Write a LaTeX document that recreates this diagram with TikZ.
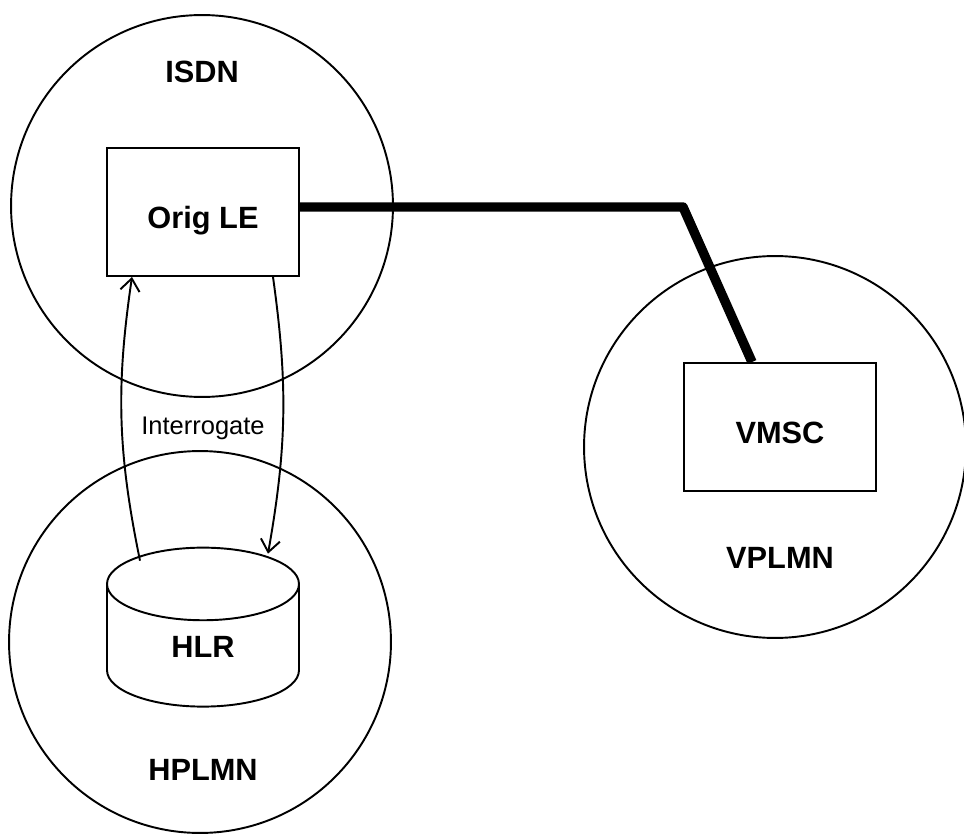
\documentclass[tikz,border=0pt]{standalone}
\usepackage{fontspec}
\setmainfont{Liberation Sans}
\usetikzlibrary{shapes.geometric,arrows.meta,calc}

\begin{document}
\begin{tikzpicture}[x=0.02cm,y=0.02cm,line width=1.1pt,
		net/.style={draw,circle,inner sep=0pt,minimum size=7.64cm},
		box/.style={draw,rectangle,minimum width=3.84cm,minimum height=2.56cm,text height=18.3pt,text depth=0pt,font=\fontsize{17.5}{21}\selectfont\bfseries},
		lbl/.style={font=\fontsize{17.5}{21}\selectfont\bfseries},
		msg/.style={-{Straight Barb[length=7pt,width=11pt]}},
		trunk/.style={line width=5.4pt,line join=round}]
	\useasboundingbox (0,0) rectangle (964,833);
	% networks
	\node[net] (isdn) at (202,627) {};
	\node[net] (hplmn) at (200,191) {};
	\node[net] (vplmn) at (775,386) {};
	\node[lbl] (isdnlbl) at (202,761) {ISDN};
	\node[lbl] (hplmnlbl) at (203,63) {HPLMN};
	\node[lbl] (vplmnlbl) at (780,275) {VPLMN};
	% equipment
	\node[box] (orig) at (203,621) {Orig LE};
	\node[box] (vmsc) at (780,406) {VMSC};
	\node[draw,cylinder,shape border rotate=90,aspect=6.2,minimum width=3.84cm,minimum height=3.18cm] (hlr) at (203,181) {};
	\node[lbl] (hlrlbl) at (203,186) {HLR};
	% connections
	\coordinate (kink) at (683,626);
	\draw[trunk] ($(orig.east)+(0,5)$) -- (kink) -- ($(vmsc.north)+(-28,0)$);
	\draw[msg] ($(hlr.north)+(-63,-14)$) to[bend left=10] ($(orig.south)+(-71,0)$);
	\draw[msg] ($(orig.south)+(70,0)$) to[bend left=9] ($(hlr.north)+(65,-7)$);
	\node[font=\fontsize{14.5}{17}\selectfont] (ask) at (203,405) {Interrogate};
\end{tikzpicture}
\end{document}
